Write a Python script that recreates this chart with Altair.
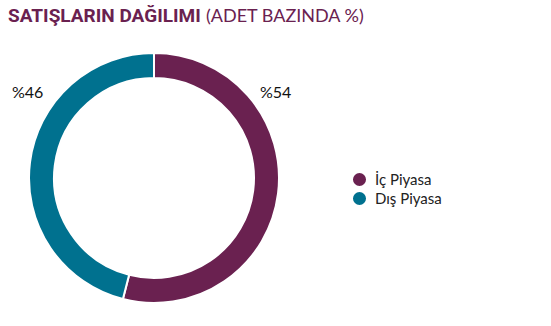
import altair as alt
import pandas as pd

categories = ["İç Piyasa", "Dış Piyasa"]
values = [54, 46]
labels = ["%54", "%46"]
colors = ["#6A2150", "#00718F"]

df = pd.DataFrame({"kategori": categories, "deger": values, "etiket": labels, "sira": [0, 1]})

W, H = 551, 326
cx, cy = 154, 178

donut = alt.Chart(df).mark_arc(innerRadius=100, outerRadius=125, stroke="white", strokeWidth=2).encode(
    theta=alt.Theta("deger:Q", stack=True),
    order=alt.Order("sira:Q"),
    color=alt.Color(
        "kategori:N",
        scale=alt.Scale(domain=categories, range=colors),
        legend=alt.Legend(
            title=None, orient="none", legendX=352, legendY=172,
            symbolType="circle", symbolSize=170, labelFontSize=15,
            labelFont="Lato", labelColor="#222222", rowPadding=3,
            symbolStrokeWidth=0, labelOffset=8,
        ),
    ),
    x=alt.value(cx),
    y=alt.value(cy),
)

lbl54 = alt.Chart(df[df.kategori == categories[0]]).mark_text(
    font="Lato", fontSize=16, color="#111111", align="left", baseline="alphabetic"
).encode(text="etiket:N", x=alt.value(260), y=alt.value(98))

lbl46 = alt.Chart(df[df.kategori == categories[1]]).mark_text(
    font="Lato", fontSize=16, color="#111111", align="left", baseline="alphabetic"
).encode(text="etiket:N", x=alt.value(12), y=alt.value(98))

title_df = pd.DataFrame({"t": ["SATIŞLARIN DAĞILIMI"]})
sub_df = pd.DataFrame({"t": ["(ADET BAZINDA %)"]})

t1 = alt.Chart(title_df).mark_text(
    font="Roboto", fontSize=19, fontWeight="bold", color="#6A2150", align="left", baseline="alphabetic"
).encode(text="t:N", x=alt.value(8), y=alt.value(22))

t2 = alt.Chart(sub_df).mark_text(
    font="Lato", fontSize=18, color="#6A2150", align="left", baseline="alphabetic"
).encode(text="t:N", x=alt.value(206), y=alt.value(22))

chart = alt.layer(donut, lbl54, lbl46, t1, t2).properties(
    width=W, height=H, padding=0, autosize=alt.AutoSizeParams(type="none"),
    background="white",
).configure_view(stroke=None)

chart.save("out.html", embed_options={"renderer": "svg", "actions": False})
